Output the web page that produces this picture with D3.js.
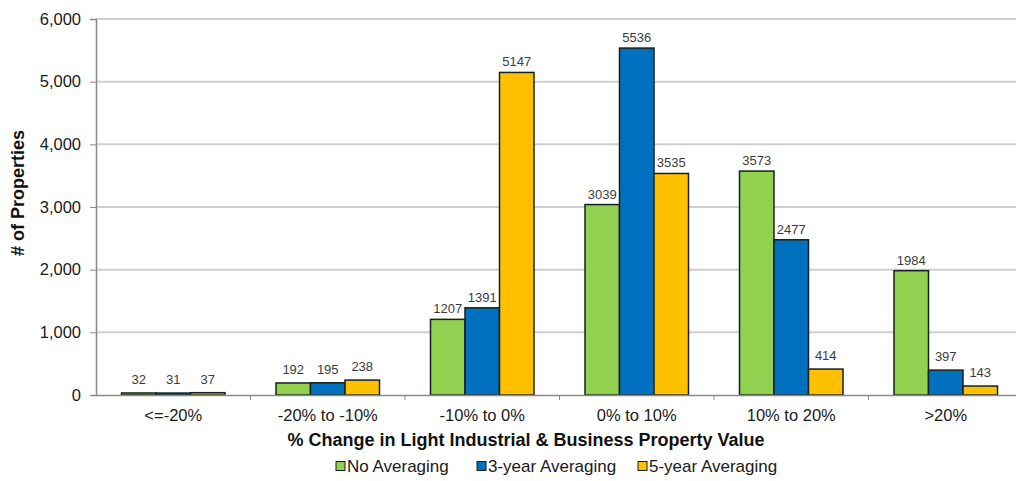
<!DOCTYPE html>
<html>
<head>
<meta charset="utf-8">
<script src="https://cdn.jsdelivr.net/npm/d3@7"></script>
<style>
  html, body { margin: 0; padding: 0; background: #fff; }
  svg { display: block; font-family: "Liberation Sans", Arial, sans-serif; }
</style>
</head>
<body>
<svg id="chart" width="1016" height="481"></svg>
<script>
// Distribution of property value changes under three averaging methods
const categories = ["<=-20%", "-20% to -10%", "-10% to 0%", "0% to 10%", "10% to 20%", ">20%"];
const seriesNames = ["No Averaging", "3-year Averaging", "5-year Averaging"];
const noAveraging    = [32, 192, 1207, 3039, 3573, 1984];
const threeYearAvg   = [31, 195, 1391, 5536, 2477, 397];
const fiveYearAvg    = [37, 238, 5147, 3535, 414, 143];
const yTicks = [0, 1000, 2000, 3000, 4000, 5000, 6000];
const colors = ["#92D050", "#0070C0", "#FFC000"];

const seriesValues = [noAveraging, threeYearAvg, fiveYearAvg];
const rows = categories.map((c, i) => ({
  category: c,
  values: seriesNames.map((s, k) => ({ series: s, value: seriesValues[k][i] }))
}));

const svg = d3.select("#chart");
const plotLeft = 96, plotTop = 19, plotBottom = 395;
const step = 154.5;

const x0 = d3.scaleBand()
  .domain(categories)
  .range([plotLeft, plotLeft + step * categories.length])
  .padding(0);

const x1 = d3.scaleBand()
  .domain(seriesNames)
  .range([0, x0.bandwidth()])
  .paddingInner(0)
  .paddingOuter(0.739);

const y = d3.scaleLinear().domain([0, 6000]).range([plotBottom, plotTop]);
const color = d3.scaleOrdinal().domain(seriesNames).range(colors);

// Horizontal gridlines
svg.append("g")
  .selectAll("line")
  .data(yTicks.filter(d => d > 0))
  .join("line")
  .attr("x1", plotLeft).attr("x2", 1016)
  .attr("y1", d => y(d)).attr("y2", d => y(d))
  .attr("stroke", "#cfcfd2")
  .attr("stroke-width", 2);

// Y axis
const yAxis = svg.append("g")
  .attr("transform", `translate(${plotLeft},0)`)
  .call(d3.axisLeft(y).tickValues(yTicks).tickSize(6).tickPadding(9).tickFormat(d3.format(",")));
yAxis.select(".domain").attr("stroke", "#8a8a8a").attr("stroke-width", 1.5);
yAxis.selectAll(".tick line").attr("stroke", "#8a8a8a");
yAxis.selectAll(".tick text")
  .attr("fill", "#1a1a1a")
  .style("font-size", "16.5px")
  .style("font-family", "'Liberation Sans', Arial, sans-serif");

// Bars
const groups = svg.append("g")
  .selectAll("g")
  .data(rows)
  .join("g")
  .attr("transform", d => `translate(${x0(d.category)},0)`);

groups.selectAll("rect")
  .data(d => d.values)
  .join("rect")
  .attr("x", d => x1(d.series))
  .attr("y", d => y(d.value))
  .attr("width", x1.bandwidth())
  .attr("height", d => y(0) - y(d.value))
  .attr("fill", d => color(d.series))
  .attr("stroke", "#17201a")
  .attr("stroke-width", 1.5);

// Value labels above bars
groups.selectAll("text")
  .data(d => d.values)
  .join("text")
  .attr("x", d => x1(d.series) + x1.bandwidth() / 2)
  .attr("y", d => y(d.value) - (d.value < 500 ? 9 : 6))
  .attr("text-anchor", "middle")
  .attr("fill", "#3c3c3c")
  .style("font-size", "13px")
  .text(d => d.value);

// X axis
const xAxis = svg.append("g")
  .attr("transform", `translate(0,${plotBottom})`)
  .call(d3.axisBottom(x0).tickSize(0).tickPadding(14));
xAxis.select(".domain").attr("stroke", "#8a8a8a").attr("stroke-width", 1.5);
xAxis.selectAll(".tick text")
  .attr("fill", "#1a1a1a")
  .style("font-size", "16.5px")
  .style("font-family", "'Liberation Sans', Arial, sans-serif");

// Separating tick marks between categories
svg.append("g")
  .selectAll("line")
  .data(categories.slice(1))
  .join("line")
  .attr("x1", d => x0(d)).attr("x2", d => x0(d))
  .attr("y1", plotBottom).attr("y2", plotBottom + 5)
  .attr("stroke", "#8a8a8a");

// Axis titles
svg.append("text")
  .attr("x", 526)
  .attr("y", 446)
  .attr("text-anchor", "middle")
  .attr("fill", "#111")
  .style("font-size", "18px")
  .style("font-weight", "bold")
  .text("% Change in Light Industrial & Business Property Value");

svg.append("text")
  .attr("transform", "translate(24,193) rotate(-90)")
  .attr("text-anchor", "middle")
  .attr("fill", "#111")
  .style("font-size", "18px")
  .style("font-weight", "bold")
  .text("# of Properties");

// Legend
const legendX = [336, 477, 638];
const legend = svg.append("g")
  .selectAll("g")
  .data(seriesNames)
  .join("g")
  .attr("transform", (d, i) => `translate(${legendX[i]},466)`);
legend.append("rect")
  .attr("x", 0).attr("y", -4.5)
  .attr("width", 9).attr("height", 9)
  .attr("fill", d => color(d))
  .attr("stroke", "#17201a")
  .attr("stroke-width", 1);
legend.append("text")
  .attr("x", 11)
  .attr("y", 0)
  .attr("dy", "0.36em")
  .attr("fill", "#1a1a1a")
  .style("font-size", "17px")
  .text(d => d);
</script>
</body>
</html>
